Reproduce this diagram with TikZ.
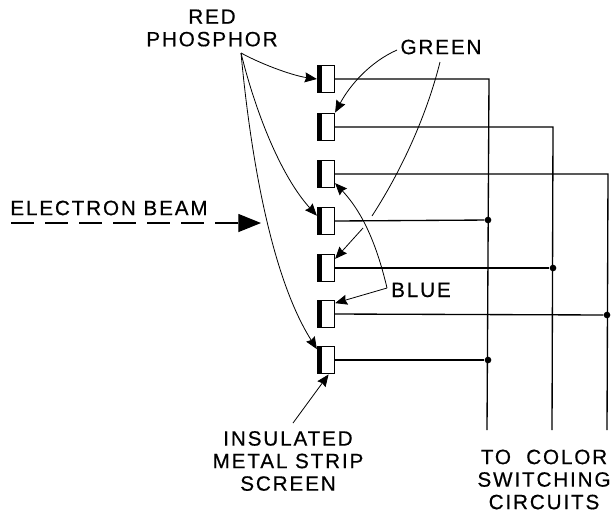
\documentclass[tikz,border=0pt]{standalone}
\usepackage{fontspec}
\newfontfamily\capfont{Liberation Sans}[LetterSpace=9,FakeBold=0.5]
\usetikzlibrary{arrows.meta}
\tikzset{
  stripbox/.style={draw,line width=1.2pt,minimum width=12.5pt,minimum height=20.5pt,inner sep=0pt,
    path picture={\fill (path picture bounding box.north west) rectangle ([xshift=3.5pt]path picture bounding box.south west);}},
  caplabel/.style={font=\capfont\fontsize{15.5}{16.9}\selectfont,align=center,inner sep=0pt},
  leader/.style={line width=0.6pt},
  leaderarrow/.style={line width=0.6pt,-{Stealth[length=9pt,width=7.5pt,inset=1pt]}},
  wire/.style={line width=1pt},
  junction/.style={circle,fill,inner sep=0pt,minimum size=5pt}
}
\begin{document}
\begin{tikzpicture}[x=0.75pt,y=-0.75pt]
\useasboundingbox (0,0) rectangle (616,512);
% strips
\foreach \name/\ypos in {sa/79,sb/127,sc/174,sd/221,se/268,sf/314,sg/360}
  \node[stripbox] (\name) at (326,\ypos) {};
% junctions
\node[junction] (ja) at (488,220) {};
\node[junction] (jb) at (553,268) {};
\node[junction] (jc) at (607,315) {};
\node[junction] (jd) at (488,360) {};
% free ends
\coordinate (wa) at (487,430);
\coordinate (wb) at (552,430);
\coordinate (wc) at (607,430);
\coordinate (ca) at (489,79);
\coordinate (cb) at (553,127);
\coordinate (cc) at (608,174);
% wires
\draw[wire] (sa.east) -- (ca) -- (wa);
\draw[wire] (sb.east) -- (cb) -- (wb);
\draw[wire] (sc.east) -- (cc) -- (wc);
\draw[wire] (sd.east) -- (ja);
\draw[wire] (se.east) -- (jb);
\draw[wire] (sf.east) -- (jc);
\draw[wire] (sg.east) -- (jd);
% labels
\node[caplabel] (red) at (212,28) {RED\\PHOSPHOR};
\node[caplabel] (green) at (441,47) {GREEN};
\node[caplabel] (blue) at (421,290) {BLUE};
\node[caplabel] (beam) at (109,208) {ELECTRON BEAM};
\node[caplabel] (screen) at (288,461) {INSULATED\\METAL STRIP\\SCREEN};
\node[caplabel] (switch) at (544,479.5) {TO\ \ COLOR\\SWITCHING\\CIRCUITS};
% leaders
\coordinate (ra) at (241,53);
\coordinate (ga) at (397,50);
\coordinate (gb) at (440,62);
\coordinate (gc) at (372,216);
\coordinate (gd) at (363,228);
\coordinate (ba) at (387,288);
\coordinate (ia) at (293,423);
\draw[leaderarrow] (ra) .. controls (265,66) and (295,76) .. (sa.west);
\draw[leaderarrow] (ra) .. controls (255,110) and (280,175) .. (sd.150);
\draw[leaderarrow] (ra) .. controls (250,150) and (270,275) .. (sg.130);
\draw[leaderarrow] (ga) .. controls (370,62) and (350,85) .. (sb.north east);
\draw[leader] (gb) .. controls (428,110) and (405,165) .. (gc);
\draw[leaderarrow] (gd) -- (se.45);
\draw[leaderarrow] (ba) .. controls (378,250) and (365,215) .. (sc.-45);
\draw[leaderarrow] (ba) -- (sf.50);
\draw[leaderarrow] (ia) -- (sg.-80);
% beam
\coordinate (bs) at (11,223);
\coordinate (bt) at (261,223);
\draw[line width=0.9pt,dash pattern=on 17pt off 8.5pt,-{Triangle[length=17pt,width=13.5pt]}] (bs) -- (bt);
\end{tikzpicture}
\end{document}
